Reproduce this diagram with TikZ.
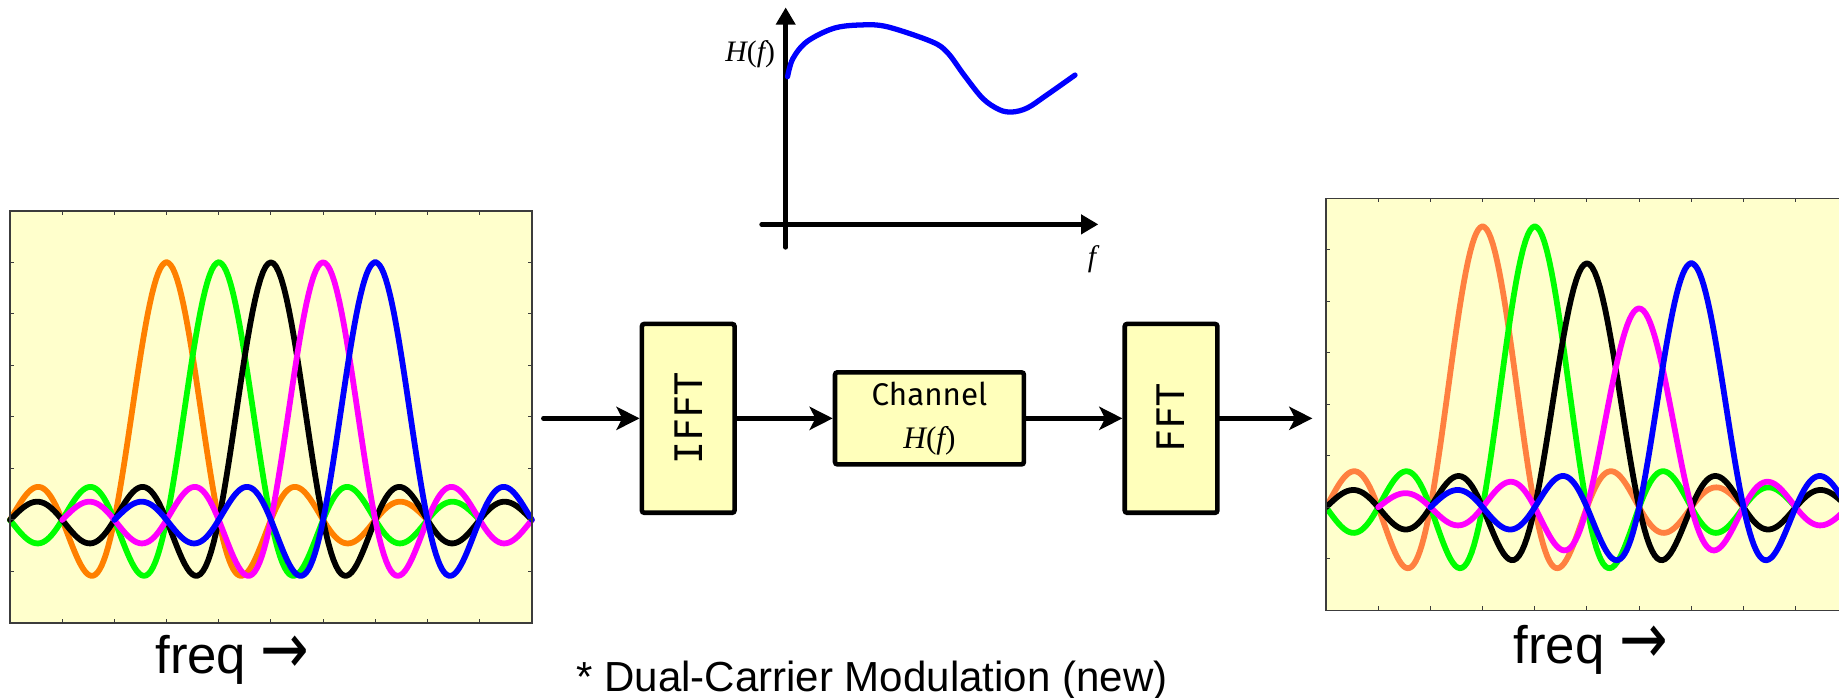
\documentclass[tikz,border=0pt]{standalone}
\usepackage{fontspec}
\setmainfont{Liberation Sans}
\newfontfamily\seriff{Liberation Serif}
\newfontfamily\monof{DejaVu Sans Mono}
\newfontfamily\chanf{Fira Sans}
\newfontfamily\arrf{DejaVu Sans}
\usetikzlibrary{arrows.meta}

\definecolor{plotbg}{RGB}{255,255,204}
\definecolor{boxbg}{RGB}{255,255,187}
\definecolor{corange}{RGB}{255,128,0}
\definecolor{corangeb}{RGB}{255,128,64}
\definecolor{cgreen}{RGB}{0,255,0}
\definecolor{cmag}{RGB}{255,0,255}
\definecolor{cblue}{RGB}{0,0,255}
\definecolor{framec}{RGB}{60,60,60}

\pgfmathdeclarefunction{mysinc}{1}{%
  \pgfmathsetmacro\sincarg{#1+(abs(#1)<0.0005)*0.001}%
  \pgfmathparse{sin(180*\sincarg)/(pi*\sincarg)}%
}

\tikzset{
  curve/.style={line width=3.5pt, line join=round, line cap=round},
  plotframe/.style={draw=framec, line width=0.8pt},
  tick/.style={draw=framec, line width=0.6pt},
  blk/.style={draw, line width=2.8pt, fill=boxbg, rounded corners=1.5pt, inner sep=0pt},
  flow/.style={line width=2.8pt, line cap=round, -{Stealth[length=14pt,width=14pt,inset=3.5pt]}},
  axisline/.style={line width=2.8pt, line cap=round, -{Triangle[length=10.5pt,width=11.5pt]}},
  biglabel/.style={font=\fontsize{32}{32}\selectfont, inner sep=0pt, anchor=base west},
}

% #1 colour, #2 peak, #3 amplitude, #4 from, #5 to
\newcommand\carrier[5]{%
  \draw[curve,#1] plot[domain=#4:#5, samples=201] ({44.5*\x},{-219.6*#3*mysinc(\x-#2)});%
}

\begin{document}
\begin{tikzpicture}[x=0.025cm,y=-0.025cm]
\useasboundingbox (0,0) rectangle (1568,595);

% ---------------- left spectrum ----------------
\fill[plotbg] (8.5,179.8) rectangle (453.5,531.1);
\begin{scope}[shift={(8.5,443.3)}]
  \carrier{corange}{3}{1}{0}{8}
  \carrier{cgreen}{4}{1}{0}{9}
  \carrier{black}{5}{1}{0}{10}
  \carrier{cmag}{6}{1}{1}{10}
  \carrier{cblue}{7}{1}{2}{10}
  \foreach \i in {1,...,9} {
    \draw[tick] ({44.5*\i},-263.5) -- ++(0,3.5);
    \draw[tick] ({44.5*\i},87.8) -- ++(0,-3.5);
  }
  \foreach \v in {-0.2,0,0.2,0.4,0.6,0.8,1.0} {
    \draw[tick] (0,{-219.6*\v}) -- ++(3.5,0);
    \draw[tick] (445,{-219.6*\v}) -- ++(-3.5,0);
  }
\end{scope}
\draw[plotframe] (8.5,179.8) rectangle (453.5,531.1);

% ---------------- right spectrum ----------------
\begin{scope}
  \clip (1130.6,169) rectangle (1568,520.3);
  \fill[plotbg] (1130.6,169) rectangle (1568,520.3);
  \begin{scope}[shift={(1130.6,432.5)}]
    \carrier{corangeb}{3}{1.09}{0}{8}
    \carrier{cgreen}{4}{1.09}{0}{9}
    \carrier{black}{5}{0.947}{0}{10}
    \carrier{cmag}{6}{0.772}{1}{10}
    \carrier{cblue}{7}{0.947}{2}{10}
    \foreach \i in {1,...,9} {
      \draw[tick] ({44.5*\i},-263.5) -- ++(0,3.5);
      \draw[tick] ({44.5*\i},87.8) -- ++(0,-3.5);
    }
    \foreach \v in {-0.2,0,0.2,0.4,0.6,0.8,1.0} {
      \draw[tick] (0,{-219.6*\v}) -- ++(3.5,0);
    }
  \end{scope}
\end{scope}
\draw[plotframe] (1575,169) -- (1130.6,169) -- (1130.6,520.3) -- (1575,520.3);

% ---------------- channel response ----------------
\coordinate (yb) at (669.9,210.9);
\coordinate (yt) at (669.9,6.3);
\coordinate (xl) at (649.4,191.3);
\coordinate (xr) at (936.5,191.3);
\draw[axisline] (yb) -- (yt);
\draw[axisline] (xl) -- (xr);
\draw[cblue, line width=3.2pt, line cap=round] plot[smooth, tension=0.55] coordinates {
  (671.5,65.4) (676,50) (688,35.5) (710.6,24.2) (733.3,21.3) (756,22.7)
  (794.4,35.5) (808,45) (822,64) (838,84) (852,93.5) (863,95.5) (876,92)
  (892.5,81) (916.6,64)};
\node[anchor=east, inner sep=0pt, font=\seriff\fontsize{18}{18}\selectfont] (hlab) at (661,46) {\itshape H\upshape(\itshape f\upshape)};
\node[inner sep=0pt, font=\seriff\fontsize{18}{18}\selectfont] (flab) at (931,221) {\itshape f};

% ---------------- block diagram ----------------
\node[blk, rotate=90, minimum width=4.025cm, minimum height=1.975cm,
      font=\monof\fontsize{23}{23}\selectfont] (ifft) at (586.8,356.7) {IFFT};
\node[blk, minimum width=4.025cm, minimum height=1.9625cm, align=center,
      font=\fontsize{19}{26}\selectfont] (chan) at (792.5,356.7)
  {{\chanf Channel}\\{\seriff\itshape H\upshape(\itshape f\upshape)}};
\node[blk, rotate=90, minimum width=4.025cm, minimum height=1.975cm,
      font=\monof\fontsize{23}{23}\selectfont] (fft) at (998.5,356.7) {FFT};
\coordinate (src) at (463.3,356.7);
\coordinate (dst) at (1119,356.7);
\draw[flow] (src) -- (ifft);
\draw[flow] (ifft) -- (chan);
\draw[flow] (chan) -- (fft);
\draw[flow] (fft) -- (dst);

% ---------------- labels ----------------
\node[biglabel] (freqL) at (132.2,574.1) {freq {\arrf\scalebox{1.1}[1.35]{→}}};
\node[biglabel] (freqR) at (1290.3,565.6) {freq {\arrf\scalebox{1.1}[1.35]{→}}};
\node[inner sep=0pt, anchor=base west, font=\fontsize{25.5}{25.5}\selectfont] (note) at (491.1,589.8) {* Dual-Carrier Modulation (new)};
\end{tikzpicture}
\end{document}
